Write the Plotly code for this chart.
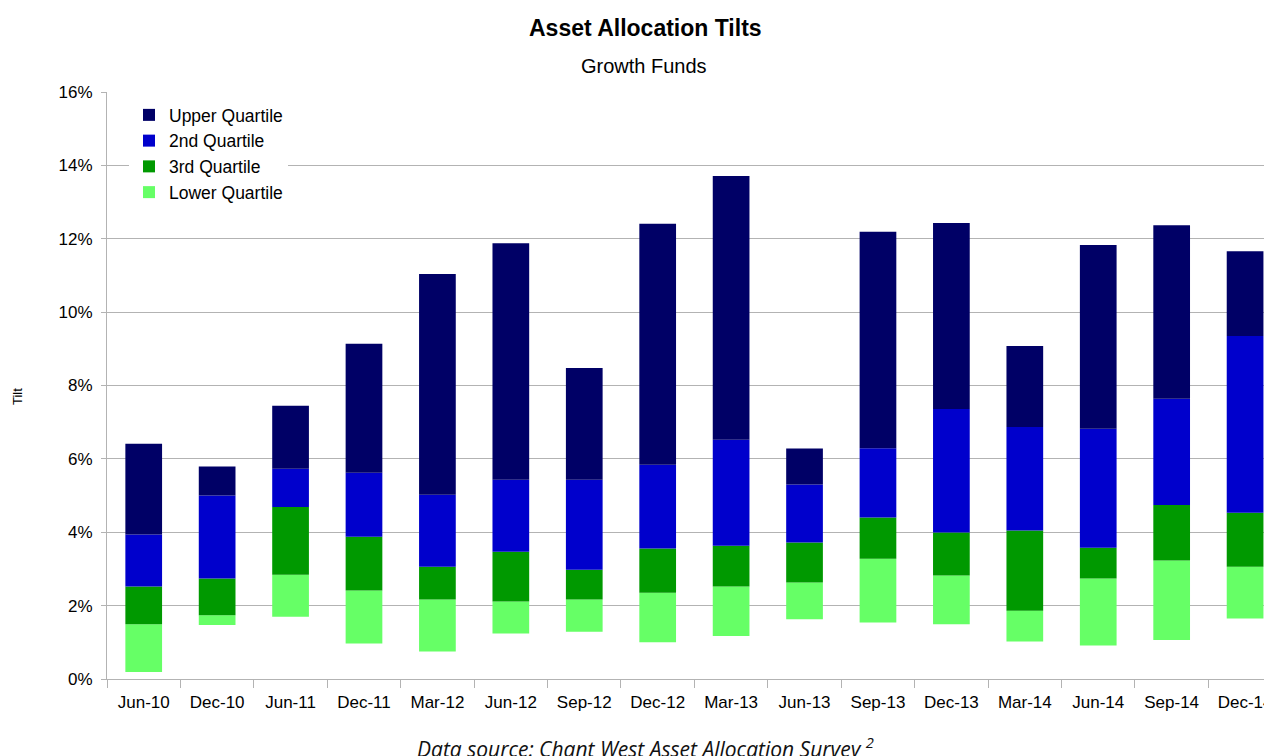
import plotly.graph_objects as go

categories = ["Jun-10", "Dec-10", "Jun-11", "Dec-11", "Mar-12", "Jun-12", "Sep-12", "Dec-12",
              "Mar-13", "Jun-13", "Sep-13", "Dec-13", "Mar-14", "Jun-14", "Sep-14", "Dec-14"]
# values in %
tilt_min = [0.19, 1.47, 1.70, 0.97, 0.75, 1.24, 1.29, 1.00, 1.17, 1.63, 1.54, 1.49, 1.02, 0.91, 1.06, 1.65]
tilt_q1 = [1.49, 1.74, 2.84, 2.41, 2.17, 2.11, 2.17, 2.35, 2.52, 2.63, 3.28, 2.82, 1.86, 2.74, 3.23, 3.06]
tilt_med = [2.52, 2.74, 4.69, 3.88, 3.06, 3.47, 2.98, 3.56, 3.63, 3.72, 4.40, 3.99, 4.05, 3.58, 4.74, 4.53]
tilt_q3 = [3.94, 5.00, 5.73, 5.62, 5.02, 5.43, 5.43, 5.84, 6.52, 5.30, 6.29, 7.36, 6.87, 6.82, 7.64, 9.35]
tilt_max = [6.41, 5.79, 7.45, 9.14, 11.04, 11.88, 8.48, 12.41, 13.71, 6.28, 12.19, 12.43, 9.08, 11.83, 12.37, 11.66]

series = [
    ("Lower Quartile", tilt_min, tilt_q1, "#66FF66"),
    ("3rd Quartile", tilt_q1, tilt_med, "#009900"),
    ("2nd Quartile", tilt_med, tilt_q3, "#0000CC"),
    ("Upper Quartile", tilt_q3, tilt_max, "#000066"),
]

fig = go.Figure()
x_idx = list(range(len(categories)))
for name, lo, hi, col in series:
    fig.add_trace(go.Bar(
        x=x_idx,
        y=[(h - l) / 100 for l, h in zip(lo, hi)],
        base=[l / 100 for l in lo],
        name=name,
        marker=dict(color=col, line=dict(width=0)),
        width=0.5,
    ))

font_main = "Liberation Sans, Arial, sans-serif"
# page has an 8px body margin; figure sized so it ends at the window edge
W, H = 1264, 748
ML, MT, MB = 99, 84, 77
plot_h = H - MT - MB
plot_w = W - ML


def ypix(p):  # p: figure pixel from top
    return (H - MB - p) / plot_h


def xpix(p):
    return (p - ML) / plot_w


fig.update_layout(
    width=W, height=H,
    barmode="overlay",
    paper_bgcolor="white", plot_bgcolor="white",
    margin=dict(l=ML, r=0, t=MT, b=MB, autoexpand=False),
    font=dict(family=font_main, size=17, color="#000000"),
    showlegend=True,
    legend=dict(
        x=xpix(121), y=ypix(89), xanchor="left", yanchor="top",
        traceorder="reversed",
        bgcolor="white",
        font=dict(size=17.5, family=font_main),
        tracegroupgap=0, itemwidth=30,
    ),
    annotations=[
        dict(text="<b>Asset Allocation Tilts</b>", x=xpix(637), y=ypix(20), xref="paper", yref="paper",
             xanchor="center", yanchor="middle", showarrow=False, font=dict(size=23, family=font_main)),
        dict(text="Growth Funds", x=xpix(636), y=ypix(58), xref="paper", yref="paper",
             xanchor="center", yanchor="middle", showarrow=False, font=dict(size=20, family=font_main)),
        dict(text="<i>Data source: Chant West Asset Allocation Survey <sup>2</sup></i>", x=xpix(637),
             y=ypix(739), xref="paper", yref="paper", xanchor="center", yanchor="middle", showarrow=False,
             font=dict(size=21, family="Open Sans, sans-serif", color="#111111")),
        dict(text="Tilt", x=xpix(9), y=ypix(388), xref="paper", yref="paper",
             xanchor="center", yanchor="middle", textangle=-90, showarrow=False,
             font=dict(size=13, family=font_main)),
    ],
)

fig.update_xaxes(
    range=[-0.5, 15.5 - 9.8 / 73.43],
    tickmode="array", tickvals=x_idx, ticktext=categories,
    showgrid=False, zeroline=False,
    showline=True, linecolor="#b3b3b3", linewidth=1,
    ticks="", tickfont=dict(size=17), ticklabelstandoff=8,
    ticklabeloverflow="allow",
    minor=dict(tickmode="array", tickvals=[i - 0.5 for i in x_idx] + [15.5], ticks="outside",
               ticklen=8, tickcolor="#b3b3b3", showgrid=False),
)
fig.update_yaxes(
    range=[0, 0.16], dtick=0.02, tickformat=".0%",
    showgrid=True, gridcolor="#b3b3b3", gridwidth=1,
    zeroline=False,
    showline=True, linecolor="#b3b3b3", linewidth=1,
    ticks="outside", ticklen=5, tickcolor="#b3b3b3",
    tickfont=dict(size=17), ticklabelstandoff=5,
)

fig.write_html("out.html")
